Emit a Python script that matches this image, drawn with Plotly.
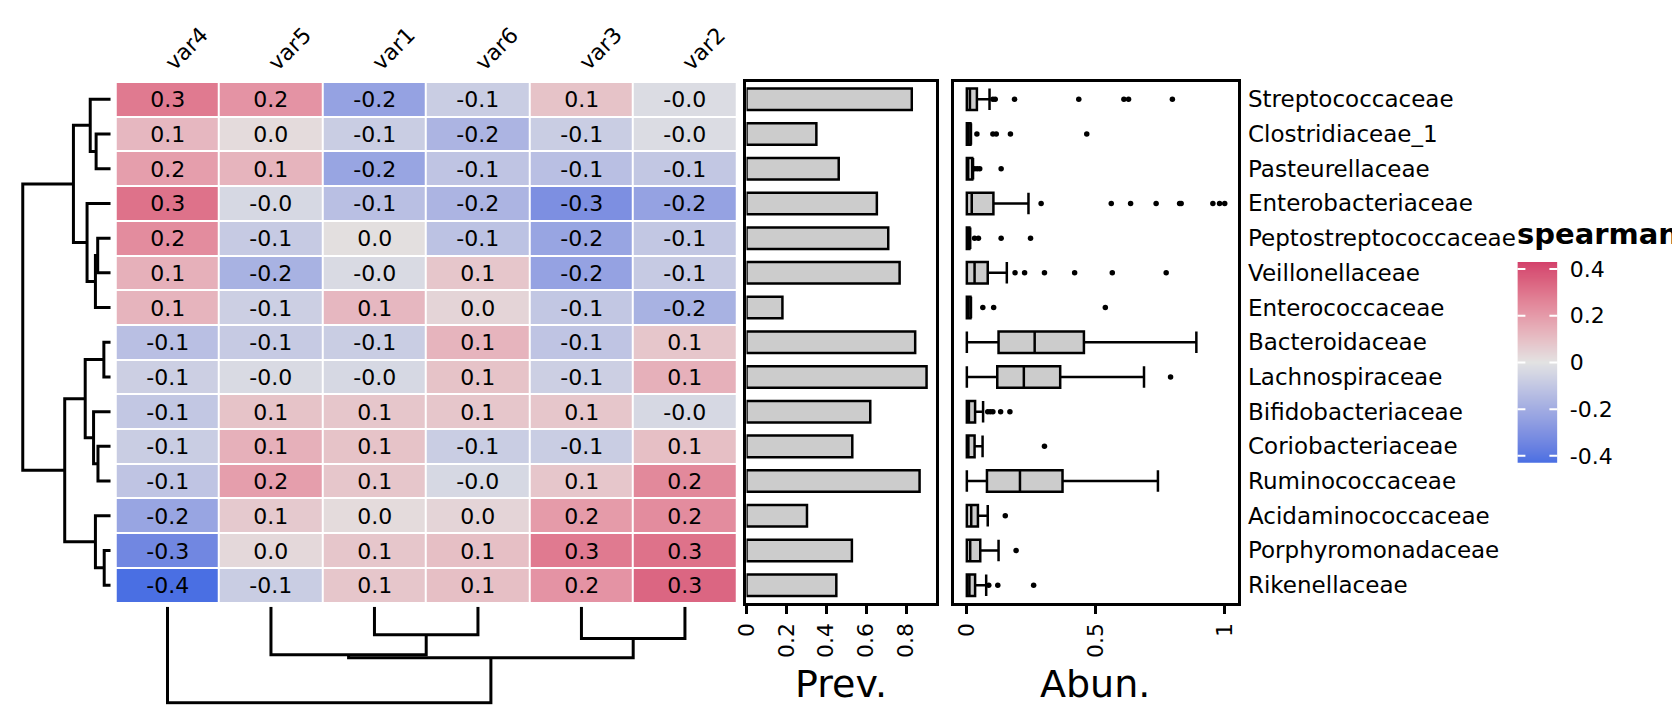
import math
import plotly.graph_objects as go

# ---------------- data ----------------
row_names = ["Streptococcaceae", "Clostridiaceae_1", "Pasteurellaceae", "Enterobacteriaceae",
             "Peptostreptococcaceae", "Veillonellaceae", "Enterococcaceae", "Bacteroidaceae",
             "Lachnospiraceae", "Bifidobacteriaceae", "Coriobacteriaceae", "Ruminococcaceae",
             "Acidaminococcaceae", "Porphyromonadaceae", "Rikenellaceae"]
col_names = ["var4", "var5", "var1", "var6", "var3", "var2"]

spearman_rho = [
    [0.29, 0.22, -0.24, -0.08, 0.09, -0.02],
    [0.12, 0.02, -0.08, -0.17, -0.08, -0.02],
    [0.19, 0.13, -0.23, -0.11, -0.13, -0.10],
    [0.31, -0.04, -0.13, -0.17, -0.31, -0.24],
    [0.24, -0.09, 0.01, -0.12, -0.23, -0.10],
    [0.14, -0.18, -0.03, 0.08, -0.24, -0.09],
    [0.13, -0.07, 0.12, 0.04, -0.10, -0.18],
    [-0.13, -0.09, -0.08, 0.13, -0.11, 0.08],
    [-0.07, -0.03, -0.04, 0.09, -0.07, 0.14],
    [-0.10, 0.09, 0.08, 0.08, 0.08, -0.04],
    [-0.08, 0.14, 0.09, -0.08, -0.08, 0.10],
    [-0.11, 0.19, 0.08, -0.04, 0.08, 0.25],
    [-0.23, 0.07, 0.02, 0.04, 0.20, 0.24],
    [-0.34, 0.03, 0.08, 0.10, 0.29, 0.31],
    [-0.43, -0.08, 0.08, 0.10, 0.22, 0.34],
]

prevalence = [0.828, 0.35, 0.462, 0.653, 0.71, 0.767, 0.18, 0.845, 0.902, 0.62, 0.53, 0.867, 0.303, 0.528, 0.45]

abun_q1 = [0.0, 0.0, 0.0, 0.0, 0.0, 0.0, 0.0, 0.123, 0.118, 0.0, 0.0, 0.078, 0.0, 0.0, 0.0]
abun_median = [0.012, 0.004, 0.005, 0.019, 0.003, 0.03, 0.003, 0.263, 0.221, 0.008, 0.006, 0.206, 0.017, 0.013, 0.01]
abun_q3 = [0.039, 0.014, 0.021, 0.103, 0.01, 0.081, 0.014, 0.454, 0.362, 0.032, 0.03, 0.371, 0.043, 0.052, 0.032]
abun_lower = [0.0] * 15
abun_upper = [0.088, 0.016, 0.024, 0.239, 0.013, 0.155, 0.016, 0.89, 0.687, 0.063, 0.061, 0.741, 0.081, 0.123, 0.075]
abun_outliers = [
    [0.101, 0.11, 0.185, 0.434, 0.609, 0.627, 0.797],
    [0.039, 0.101, 0.114, 0.169, 0.465],
    [0.03, 0.04, 0.05, 0.133],
    [0.288, 0.56, 0.635, 0.734, 0.825, 0.831, 0.954, 0.98, 1.0],
    [0.03, 0.045, 0.133, 0.247],
    [0.187, 0.224, 0.301, 0.418, 0.564, 0.773],
    [0.062, 0.104, 0.537],
    [],
    [0.79],
    [0.081, 0.091, 0.101, 0.131, 0.167],
    [0.301],
    [],
    [0.149],
    [0.191],
    [0.085, 0.12, 0.259],
]

# hclust-style merges: negative = leaf (1-based display order), positive = earlier merge
row_merge = [(-2, -3), (-1, 1), (-5, -6), (-7, 3), (-4, 4), (2, 5),
             (-8, -9), (-11, -12), (-10, 8), (7, 9), (-14, -15), (-13, 11), (10, 12), (6, 13)]
row_heights = [0.166, 0.233, 0.148, 0.174, 0.269, 0.424, 0.078, 0.145, 0.195, 0.29, 0.074, 0.174, 0.523, 1.0]
col_merge = [(-3, -4), (-5, -6), (-2, 1), (3, 2), (-1, 4)]
col_heights = [0.29, 0.33, 0.5, 0.53, 1.0]

prev_ticks = [0, 0.2, 0.4, 0.6, 0.8]
prev_ticktext = ["0", "0.2", "0.4", "0.6", "0.8"]
abun_ticks = [0, 0.5, 1]
abun_ticktext = ["0", "0.5", "1"]
cbar_ticks = [-0.4, -0.2, 0, 0.2, 0.4]
cbar_ticktext = ["-0.4", "-0.2", "0", "0.2", "0.4"]
ZMAX = 0.43

# ---------------- helpers ----------------
W, H = 1680, 720
FONT = "DejaVu Sans"
# empirical mapping from a wanted screenshot pixel to a figure pixel
SX, OX = 0.992, 23.0
SY, OY = 0.985, 12.0


def px_x(p):
    return min(max(((p - OX) / SX) / W, 0.0), 1.0)


def px_y(p):
    return min(max(1 - ((p - OY) / SY) / H, 0.0), 1.0)


def hcl_hex(h, c, l):
    hr = math.radians(h)
    u, v = c * math.cos(hr), c * math.sin(hr)
    Xn, Yn, Zn = 95.047, 100.0, 108.883
    Y = Yn * ((l + 16) / 116) ** 3 if l > 8 else Yn * l / 903.3
    den = Xn + 15 * Yn + 3 * Zn
    un, vn = 4 * Xn / den, 9 * Yn / den
    up, vp = u / (13 * l) + un, v / (13 * l) + vn
    X = 9 * Y * up / (4 * vp)
    Z = Y * (12 - 3 * up - 20 * vp) / (4 * vp)
    X, Y, Z = X / 100, Y / 100, Z / 100
    rgb = [3.2404542 * X - 1.5371385 * Y - 0.4985314 * Z,
           -0.9692660 * X + 1.8760108 * Y + 0.0415560 * Z,
           0.0556434 * X - 0.2040259 * Y + 1.0572252 * Z]
    out = []
    for ch in rgb:
        ch = 12.92 * ch if ch <= 0.0031308 else 1.055 * (max(ch, 0) ** (1 / 2.4)) - 0.055
        out.append(int(round(min(max(ch, 0), 1) * 255)))
    return "#%02x%02x%02x" % tuple(out)


# colorspace "Blue-Red 2" diverging palette
N = 41
colorscale = []
for i in range(N):
    t = -1 + 2 * i / (N - 1)
    a = abs(t)
    colorscale.append([(t + 1) / 2, hcl_hex(260 if t < 0 else 0, 100 * a, 90 - 40 * a)])


def dendro_segments(merge, heights):
    pos, hts, xs, ys = {}, {}, [], []
    for k, (a, b) in enumerate(merge, start=1):
        pts = []
        for c in (a, b):
            pts.append((-c - 1, 0.0) if c < 0 else (pos[c], hts[c]))
        h = heights[k - 1]
        (p1, h1), (p2, h2) = pts
        xs += [p1, p1, p2, p2, None]
        ys += [h1, h, h, h2, None]
        pos[k] = (p1 + p2) / 2
        hts[k] = h
    return xs, ys


# ---------------- geometry (wanted px in the screenshot) ----------------
HM_L, HM_R, HM_T, HM_B = 117.7, 738.5, 81, 601.7
hm_ydom = [px_y(HM_B), px_y(HM_T)]
CB_L, CB_R, CB_T, CB_B = 1519, 1559, 261, 462
nrow, ncol = len(row_names), len(col_names)

fig = go.Figure()

texts = [[f"{v:.1f}" for v in row] for row in spearman_rho]
fig.add_trace(go.Heatmap(
    z=spearman_rho, x=list(range(ncol)), y=list(range(nrow)),
    colorscale=colorscale, zmin=-ZMAX, zmax=ZMAX, xgap=2, ygap=2, showscale=False,
    text=texts, texttemplate="%{text}", textfont=dict(size=22, color="black", family=FONT),
    hoverinfo="skip",
))

# colour legend drawn as its own heatmap strip
n_leg = 201
leg_vals = [-ZMAX + 2 * ZMAX * i / (n_leg - 1) for i in range(n_leg)]
fig.add_trace(go.Heatmap(z=[[v] for v in leg_vals], x=[0], y=leg_vals, colorscale=colorscale,
                         zmin=-ZMAX, zmax=ZMAX, showscale=False, xaxis="x5", yaxis="y5",
                         hoverinfo="skip"))

# row dendrogram
rx, ry = dendro_segments(row_merge, row_heights)
fig.add_trace(go.Scatter(x=ry, y=rx, mode="lines", line=dict(color="black", width=3),
                         xaxis="x2", yaxis="y", hoverinfo="skip", showlegend=False))
# column dendrogram
cx, cy = dendro_segments(col_merge, col_heights)
fig.add_trace(go.Scatter(x=cx, y=cy, mode="lines", line=dict(color="black", width=3),
                         xaxis="x", yaxis="y2", hoverinfo="skip", showlegend=False))

# prevalence bars
fig.add_trace(go.Bar(x=prevalence, y=list(range(nrow)), orientation="h", width=0.62,
                     marker=dict(color="#cccccc", line=dict(color="black", width=2.5)),
                     xaxis="x3", yaxis="y3", hoverinfo="skip", showlegend=False))

# abundance boxes
fig.add_trace(go.Box(y=list(range(nrow)), q1=abun_q1, median=abun_median, q3=abun_q3,
                     lowerfence=abun_lower, upperfence=abun_upper, orientation="h",
                     width=0.62, whiskerwidth=1, boxpoints=False,
                     fillcolor="#cccccc", line=dict(color="black", width=2.5),
                     xaxis="x4", yaxis="y4", hoverinfo="skip", showlegend=False))
ox, oy = [], []
for i, vals in enumerate(abun_outliers):
    for v in vals:
        ox.append(v)
        oy.append(i)
fig.add_trace(go.Scatter(x=ox, y=oy, mode="markers", marker=dict(color="black", size=5.5),
                         xaxis="x4", yaxis="y4", hoverinfo="skip", showlegend=False, cliponaxis=False))

hidden = dict(showgrid=False, zeroline=False, showticklabels=False, ticks="", showline=False)
framed = dict(showgrid=False, zeroline=False, showline=True, mirror=True, linecolor="black", linewidth=2.5)
xticks = dict(ticks="outside", ticklen=9, tickwidth=2.5, tickcolor="black", tickangle=-90,
              tickfont=dict(size=22, family=FONT, color="black"))

fig.update_layout(
    width=W, height=H, margin=dict(l=0, r=0, t=0, b=0),
    paper_bgcolor="white", plot_bgcolor="white", showlegend=False,
    font=dict(family=FONT, color="black"),
    xaxis=dict(domain=[px_x(HM_L), px_x(HM_R)], range=[-0.5, ncol - 0.5], anchor="y", **hidden),
    yaxis=dict(domain=hm_ydom, range=[nrow - 0.5, -0.5], anchor="x", **hidden),
    xaxis2=dict(domain=[px_x(16), px_x(112.7)], range=[1.02, 0], anchor="y", **hidden),
    yaxis2=dict(domain=[px_y(704), px_y(606)], range=[1.021, 0], anchor="x", **hidden),
    xaxis3=dict(domain=[px_x(748.3), px_x(937.3)], range=[0, 0.947], anchor="y3",
                tickvals=prev_ticks, ticktext=prev_ticktext, **xticks, **framed),
    yaxis3=dict(domain=hm_ydom, range=[nrow - 0.5, -0.5], anchor="x3", showticklabels=False,
                ticks="", **framed),
    xaxis4=dict(domain=[px_x(955.7), px_x(1239.3)], range=[-0.05, 1.05], anchor="y4",
                tickvals=abun_ticks, ticktext=abun_ticktext, **xticks, **framed),
    yaxis4=dict(domain=hm_ydom, range=[nrow - 0.5, -0.5], anchor="x4", showticklabels=False,
                ticks="", **framed),
    xaxis5=dict(domain=[px_x(CB_L), px_x(CB_R)], range=[-0.5, 0.5], anchor="y5", **hidden),
    yaxis5=dict(domain=[px_y(CB_B), px_y(CB_T)], range=[-ZMAX, ZMAX], anchor="x5", side="right",
                showgrid=False, zeroline=False, showline=False, tickvals=cbar_ticks,
                ticktext=cbar_ticktext, ticks="outside", ticklen=7, tickcolor="rgba(0,0,0,0)",
                tickfont=dict(size=22, family=FONT, color="black")),
)

ann = []
for j, name in enumerate(col_names):
    ann.append(dict(text=name, x=j, xref="x", y=px_y(77), yref="paper", xanchor="left",
                    yanchor="bottom", textangle=-45, xshift=-10, showarrow=False,
                    font=dict(size=22, family=FONT, color="black")))
for i, name in enumerate(row_names):
    ann.append(dict(text=name, x=px_x(1248), xref="paper", y=i, yref="y", xanchor="left",
                    yanchor="middle", showarrow=False, font=dict(size=23, family=FONT, color="black")))
ann.append(dict(text="Prev.", x=px_x(843), y=px_y(683), xref="paper", yref="paper", showarrow=False,
                xanchor="center", yanchor="middle", font=dict(size=38, family=FONT, color="black")))
ann.append(dict(text="Abun.", x=px_x(1097), y=px_y(683), xref="paper", yref="paper", showarrow=False,
                xanchor="center", yanchor="middle", font=dict(size=38, family=FONT, color="black")))
ann.append(dict(text="<b>spearman</b>", x=px_x(1517), y=px_y(233), xref="paper", yref="paper",
                showarrow=False, xanchor="left", yanchor="middle",
                font=dict(size=29, family=FONT, color="black")))
fig.update_layout(annotations=ann)

# white tick dashes on both inner edges of the colour legend
shapes = []
for v in cbar_ticks:
    for x0, x1 in ((0, 0.2), (0.8, 1.0)):
        shapes.append(dict(type="line", xref="x5 domain", yref="y5", x0=x0, x1=x1, y0=v, y1=v,
                           line=dict(color="white", width=2), layer="above"))
fig.update_layout(shapes=shapes)

fig.write_html("out.html")
